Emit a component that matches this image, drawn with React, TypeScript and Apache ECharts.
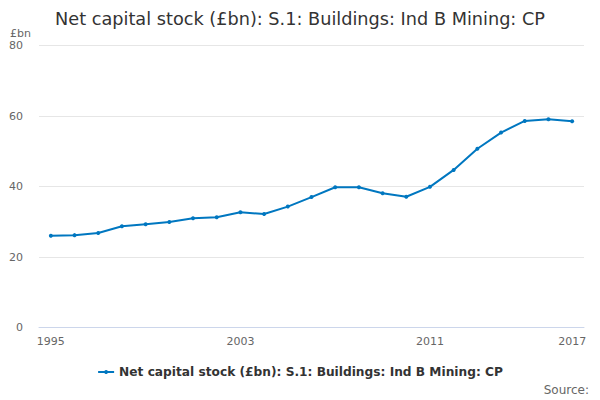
import React, { useEffect, useRef } from "react";
import * as echarts from "echarts";

const years = [
  "1995", "1996", "1997", "1998", "1999", "2000", "2001", "2002", "2003", "2004", "2005",
  "2006", "2007", "2008", "2009", "2010", "2011", "2012", "2013", "2014", "2015", "2016", "2017",
];
const values = [
  26.0, 26.2, 26.8, 28.7, 29.3, 29.9, 31.0, 31.3, 32.7, 32.2, 34.3,
  37.0, 39.8, 39.8, 38.1, 37.1, 39.9, 44.7, 50.7, 55.3, 58.6, 59.1, 58.5,
];
const labelIndices = [0, 8, 16, 22];
const seriesName = "Net capital stock (£bn): S.1: Buildings: Ind B Mining: CP";
const titleText = "Net capital stock (£bn): S.1: Buildings: Ind B Mining: CP";

export default function App() {
  const ref = useRef<HTMLDivElement>(null);
  useEffect(() => {
    if (!ref.current) return;
    const chart = echarts.init(ref.current, null, { renderer: "svg" });
    const font = "DejaVu Sans";
    chart.setOption({
      animation: false,
      textStyle: { fontFamily: font },
      title: {
        text: titleText,
        left: "center",
        top: 5,
        textStyle: { fontFamily: font, fontSize: 17.7, fontWeight: "normal", color: "#333333" },
      },
      graphic: [
        {
          type: "text",
          left: 10,
          top: 28,
          style: { text: "£bn", fontFamily: font, fontSize: 11, fill: "#666666" },
        },
        {
          type: "text",
          right: 11,
          top: 384,
          style: { text: "Source:", fontFamily: font, fontSize: 12, fill: "#666666" },
        },
      ],
      legend: {
        bottom: 17,
        left: "center",
        itemWidth: 16,
        itemHeight: 5,
        itemGap: 8,
        textStyle: { fontFamily: font, fontSize: 12.2, fontWeight: "bold", color: "#333333" },
        data: [seriesName],
      },
      grid: { left: 39, right: 16, top: 45.5, bottom: 72.5, containLabel: false },
      xAxis: {
        type: "category",
        data: years,
        boundaryGap: true,
        axisLine: { lineStyle: { color: "#ccd6eb", width: 1 } },
        axisTick: {
          alignWithLabel: true,
          length: 10,
          lineStyle: { color: "#ccd6eb" },
          interval: (i: number) => i % 2 === 0,
        },
        axisLabel: {
          interval: (i: number) => labelIndices.indexOf(i) >= 0,
          color: "#666666",
          fontFamily: font,
          fontSize: 11,
          margin: 8,
        },
        splitLine: { show: false },
      },
      yAxis: {
        type: "value",
        min: 0,
        max: 80,
        interval: 20,
        axisLine: { show: false },
        axisTick: { show: false },
        axisLabel: { color: "#666666", fontFamily: font, fontSize: 11, margin: 16 },
        splitLine: { lineStyle: { color: "#e6e6e6", width: 1 } },
      },
      series: [
        {
          name: seriesName,
          type: "line",
          data: values,
          symbol: "circle",
          symbolSize: 4,
          itemStyle: { color: "#0077c0" },
          lineStyle: { color: "#0077c0", width: 2 },
        },
      ],
    });
    return () => chart.dispose();
  }, []);
  return <div ref={ref} style={{ width: 600, height: 400, position: "absolute", left: 0, top: 0 }} />;
}
